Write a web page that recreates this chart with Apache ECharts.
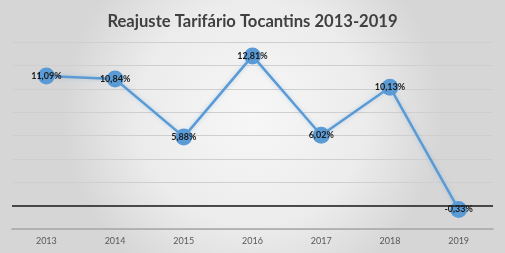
<!DOCTYPE html>
<html><head><meta charset="utf-8">
<script src="https://cdn.jsdelivr.net/npm/echarts@6/dist/echarts.min.js"></script>
<style>html,body{margin:0;padding:0;}#c{width:505px;height:253px;}</style>
</head><body><div id="c"></div>
<script>
var titleText = 'Reajuste Tarifário Tocantins 2013-2019';
var years = ['2013','2014','2015','2016','2017','2018','2019'];
var reajuste = [11.09, 10.84, 5.88, 12.81, 6.02, 10.13, -0.33];

var chart = echarts.init(document.getElementById('c'), null, {renderer:'canvas'});
chart.setOption({
  animation:false,
  backgroundColor:{type:'radial',x:0.5,y:0.45,r:0.75,colorStops:[{offset:0,color:'#f7f7f7'},{offset:0.6,color:'#ececec'},{offset:1,color:'#d6d6d6'}]},
  title:{text:titleText,left:'center',top:8,textStyle:{fontFamily:'Lato',fontWeight:'bold',fontSize:16.6,color:'#404040'}},
  grid:{left:12,right:12,top:42,bottom:24},
  xAxis:{type:'category',data:years,boundaryGap:true,
    axisLine:{onZero:false,lineStyle:{color:'#a6a6a6',width:1.5}},
    axisTick:{show:false},
    axisLabel:{color:'#595959',fontSize:9,fontFamily:'Lato',margin:8}},
  yAxis:{type:'value',min:-2,max:14,interval:2,
    axisLabel:{show:false},axisLine:{show:false},axisTick:{show:false},
    splitLine:{lineStyle:{color:'#cfcfcf',width:1}}},
  series:[{type:'line',data:reajuste,symbol:'circle',symbolSize:17,
    lineStyle:{color:'#5b9bd5',width:2.5,shadowColor:'rgba(91,155,213,0.35)',shadowBlur:4},
    itemStyle:{color:'#5b9bd5'},
    label:{show:true,position:'inside',fontSize:9,fontWeight:'bold',color:'#1a1a1a',fontFamily:'Lato',
      formatter:function(p){return p.value.toFixed(2).replace('.',',')+'%';}},
    markLine:{silent:true,symbol:'none',label:{show:false},
      lineStyle:{color:'#1a1a1a',width:1.5,type:'solid'},data:[{yAxis:0}]},
    z:3}]
});
</script></body></html>
